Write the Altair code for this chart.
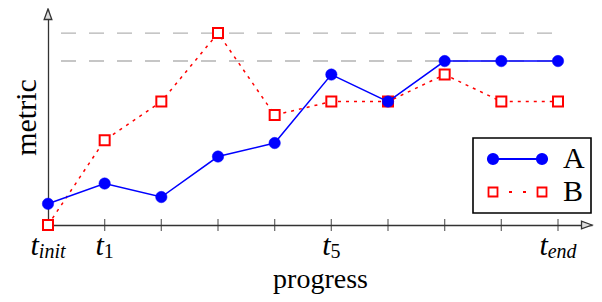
import altair as alt
import pandas as pd

# ---------------- data ----------------
steps = [0, 1, 2, 3, 4, 5, 6, 7, 8, 9]
series_a = [22, 43, 29, 71, 85, 156, 128, 170, 170, 170]
series_b = [0, 88, 128, 199, 114, 128, 128, 156, 128, 128]
ref_levels = [199, 170]
ref_from = [0, 0]
ref_to = [9, 9]
tick_steps = [0, 1, 5, 9]
tick_main = ["t", "t", "t", "t"]
tick_subs = ["init", "1", "5", "end"]
series_names = ["A", "B"]
x_max = 9.6
y_max = 224

# ---------------- layout / style ----------------
W, H = 544, 216
PX_PER_STEP = W / x_max
BLUE, RED, GRAY, AXIS = "#0000ff", "#ff0000", "#b4b4b4", "#333333"
FONT = "Liberation Serif"
T_SIZE, SUB_SIZE = 30, 20

x_scale = alt.Scale(domain=[0, x_max], nice=False, zero=False)
y_scale = alt.Scale(domain=[0, y_max], nice=False, zero=False)
x_axis = alt.Axis(domain=True, domainColor=AXIS, domainWidth=1.3, ticks=False, labels=False,
                  grid=False, title="progress", titleFont=FONT, titleFontSize=28,
                  titleFontWeight="normal", titleColor="black", titleBaseline="alphabetic",
                  titlePadding=62)
y_axis = alt.Axis(domain=True, domainColor=AXIS, domainWidth=1.3, ticks=False, labels=False,
                  grid=False, title="metric", titleFont=FONT, titleFontSize=30,
                  titleFontWeight="normal", titleColor="black", titleBaseline="alphabetic",
                  titlePadding=13)


def X(field):
    return alt.X(f"{field}:Q", scale=x_scale, axis=x_axis)


def Y(field="value"):
    return alt.Y(f"{field}:Q", scale=y_scale, axis=y_axis)


df_a = pd.DataFrame({"step": steps, "value": series_a})
df_b = pd.DataFrame({"step": steps, "value": series_b})
df_ref = pd.DataFrame({"step": ref_from, "step_end": ref_to, "value": ref_levels})

# reference dashed lines
ref_rules = alt.Chart(df_ref).mark_rule(color=GRAY, strokeWidth=1.4, strokeDash=[15, 13],
                                        strokeDashOffset=15).encode(
    x=X("step"), x2="step_end:Q", y=Y())

# axis ticks crossing the x axis
df_ticks = pd.DataFrame({"step": steps, "value": [0] * len(steps)})
ticks = alt.Chart(df_ticks).mark_tick(orient="vertical", size=12, thickness=1.3, color=AXIS).encode(
    x=X("step"), y=Y())

# arrow heads on axes
df_arrow_x = pd.DataFrame({"step": [x_max], "value": [0]})
df_arrow_y = pd.DataFrame({"step": [0], "value": [y_max]})
arrow_x = alt.Chart(df_arrow_x).mark_point(shape="M0,0L-3,-1.1L-3,1.1Z", size=49, filled=True,
                                           fill="#dddddd", stroke=AXIS, strokeWidth=1.3,
                                           opacity=1).encode(x=X("step"), y=Y())
arrow_y = alt.Chart(df_arrow_y).mark_point(shape="M0,0L-1.1,3L1.1,3Z", size=49, filled=True,
                                           fill="#dddddd", stroke=AXIS, strokeWidth=1.3,
                                           opacity=1).encode(x=X("step"), y=Y())

# series
line_b = alt.Chart(df_b).mark_line(color=RED, strokeWidth=1.5, strokeDash=[3, 5]).encode(
    x=X("step"), y=Y())
pts_b = alt.Chart(df_b).mark_point(shape="square", size=100, filled=True, fill="white",
                                   stroke=RED, strokeWidth=2, opacity=1).encode(x=X("step"), y=Y())
line_a = alt.Chart(df_a).mark_line(color=BLUE, strokeWidth=1.5).encode(x=X("step"), y=Y())
pts_a = alt.Chart(df_a).mark_point(shape="circle", size=130, filled=True, fill=BLUE,
                                   stroke=BLUE, strokeWidth=0.5, opacity=1).encode(x=X("step"), y=Y())

# tick labels: "t" with a subscript, centred on the tick
T_W = 0.278 * T_SIZE
CHAR_W = {"i": 0.278, "n": 0.5, "t": 0.278, "e": 0.444, "d": 0.5}


def sub_width(s):
    return sum(CHAR_W.get(c, 0.5) for c in s) * SUB_SIZE


df_lab = pd.DataFrame({"step": tick_steps, "main": tick_main, "sub": tick_subs})
df_lab["anchor"] = df_lab["step"] + (T_W - df_lab["sub"].map(sub_width)) / 2 / PX_PER_STEP
df_lab["value"] = 0
df_lab["roman"] = df_lab["sub"].str.isdigit()

lab_main = alt.Chart(df_lab).mark_text(font=FONT, fontSize=T_SIZE, fontStyle="italic", align="right",
                                       baseline="alphabetic", dy=30, color="black").encode(
    x=X("anchor"), y=Y(), text="main:N")
lab_sub_it = alt.Chart(df_lab).transform_filter("!datum.roman").mark_text(
    font=FONT, fontSize=SUB_SIZE, fontStyle="italic", align="left", baseline="alphabetic",
    dy=33, color="black").encode(x=X("anchor"), y=Y(), text="sub:N")
lab_sub_rm = alt.Chart(df_lab).transform_filter("datum.roman").mark_text(
    font=FONT, fontSize=SUB_SIZE, align="left", baseline="alphabetic", dy=33,
    color="black").encode(x=X("anchor"), y=Y(), text="sub:N")

# legend (native Vega-Lite legend with custom symbols)
PATH_A = ("M-2.97,0A0.52,0.52,0,1,0,-1.93,0A0.52,0.52,0,1,0,-2.97,0Z "
          "M1.93,0A0.52,0.52,0,1,0,2.97,0A0.52,0.52,0,1,0,1.93,0Z M-2.45,0L2.45,0")
PATH_B = ("M-2.9,-0.45L-2.0,-0.45L-2.0,0.45L-2.9,0.45Z M2.0,-0.45L2.9,-0.45L2.9,0.45L2.0,0.45Z "
          "M-0.85,0L-0.55,0 M0.55,0L0.85,0")
legend = alt.Legend(title=None, orient="none", legendX=425, legendY=129, symbolSize=400,
                    symbolStrokeWidth=1.8, symbolOffset=23.5, labelOffset=30.5, labelFont=FONT,
                    labelFontSize=30, labelColor="black", padding=6, rowPadding=3,
                    strokeColor="black", fillColor="white", symbolOpacity=1)
df_leg = pd.DataFrame({"series": series_names})
legend_layer = alt.Chart(df_leg).transform_filter("false").mark_point(
    strokeWidth=1.8, opacity=1).encode(
    shape=alt.Shape("series:N", scale=alt.Scale(domain=series_names, range=[PATH_A, PATH_B]),
                    legend=legend),
    fill=alt.Fill("series:N", scale=alt.Scale(domain=series_names, range=[BLUE, "#ffffff"]),
                  legend=legend),
    stroke=alt.Stroke("series:N", scale=alt.Scale(domain=series_names, range=[BLUE, RED]),
                      legend=legend),
)

chart = alt.layer(
    ref_rules, ticks, arrow_x, arrow_y, line_b, pts_b, line_a, pts_a,
    lab_main, lab_sub_it, lab_sub_rm, legend_layer
).properties(
    width=W, height=H,
    padding={"left": 40, "top": 1, "right": 2, "bottom": 69},
    autosize=alt.AutoSizeParams(type="none"),
    background="white",
).configure_view(stroke=None).configure_legend(strokeWidth=1.6)

chart.save("out.html", embed_options={"renderer": "svg", "actions": False})
